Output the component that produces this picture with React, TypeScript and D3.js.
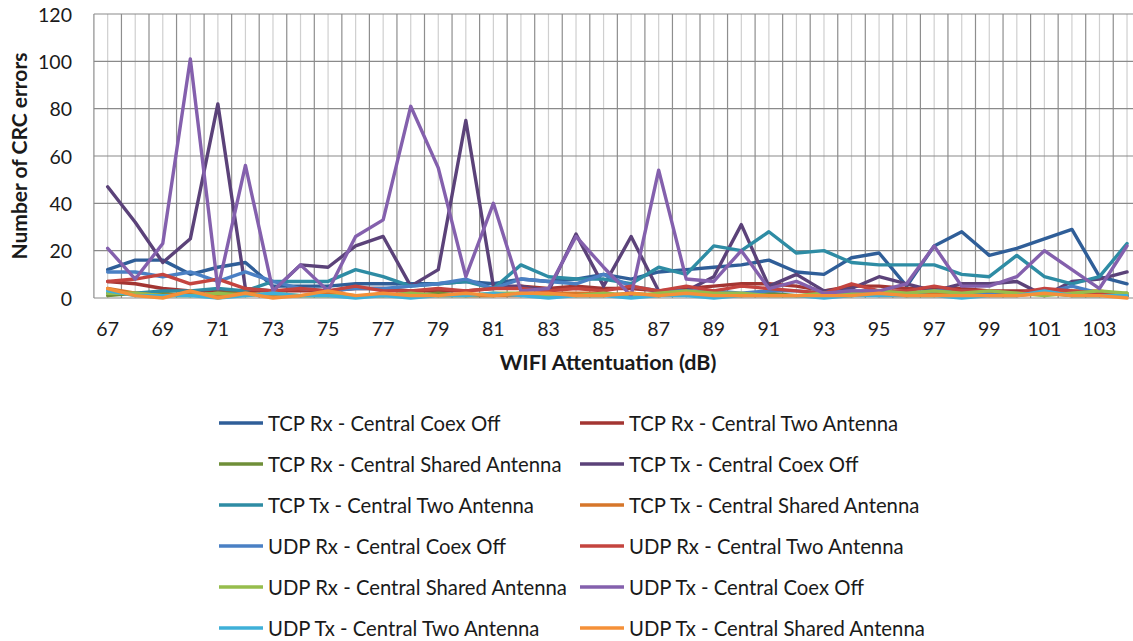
import React from "react";
import * as d3 from "d3";

const categories = d3.range(67, 105).map(String);
const yTicks = [0, 20, 40, 60, 80, 100, 120];
const xTickLabels = categories.filter((_, i) => i % 2 === 0);

const seriesNames = [
  "TCP Rx - Central Coex Off",
  "TCP Rx - Central Two Antenna",
  "TCP Rx - Central Shared Antenna",
  "TCP Tx - Central Coex Off",
  "TCP Tx - Central Two Antenna",
  "TCP Tx - Central Shared Antenna",
  "UDP Rx - Central Coex Off",
  "UDP Rx - Central Two Antenna",
  "UDP Rx - Central Shared Antenna",
  "UDP Tx - Central Coex Off",
  "UDP Tx - Central Two Antenna",
  "UDP Tx - Central Shared Antenna",
];

const seriesColors = [
  "#2f5e98", "#a33532", "#6f8f38", "#5b4279", "#2e8ca4", "#d6762a",
  "#4a80c4", "#c4443f", "#96bd4c", "#8460ad", "#3fb0d8", "#f59038",
];

const tcpRxCoexOff = [12, 16, 16, 10, 13, 15, 5, 5, 5, 6, 6, 6, 6, 7, 6, 8, 7, 8, 10, 8, 11, 12, 13, 14, 16, 11, 10, 17, 19, 5, 22, 28, 18, 21, 25, 29, 9, 6];
const tcpRxTwoAntenna = [7, 6, 4, 3, 3, 3, 3, 3, 3, 4, 4, 3, 3, 3, 4, 5, 4, 5, 4, 4, 3, 4, 5, 6, 6, 5, 3, 5, 5, 4, 4, 4, 3, 3, 3, 2, 2, 1];
const tcpRxShared = [1, 2, 2, 1, 2, 2, 1, 1, 1, 1, 1, 1, 2, 1, 1, 2, 2, 1, 1, 2, 1, 2, 2, 1, 2, 1, 1, 1, 2, 1, 1, 2, 2, 2, 2, 1, 1, 2];
const tcpTxCoexOff = [47, 32, 15, 25, 82, 4, 3, 14, 13, 22, 26, 5, 12, 75, 5, 5, 3, 27, 5, 26, 3, 3, 9, 31, 5, 10, 3, 4, 9, 6, 3, 6, 6, 7, 1, 7, 8, 11];
const tcpTxTwoAntenna = [2, 2, 3, 3, 4, 3, 7, 7, 7, 12, 9, 5, 6, 7, 4, 14, 9, 8, 8, 6, 13, 10, 22, 20, 28, 19, 20, 15, 14, 14, 14, 10, 9, 18, 9, 6, 9, 23];
const tcpTxShared = [4, 2, 1, 2, 1, 2, 1, 1, 2, 1, 1, 2, 1, 1, 1, 1, 2, 2, 2, 1, 1, 2, 1, 1, 1, 1, 1, 2, 1, 1, 2, 1, 1, 1, 2, 3, 3, 1];
const udpRxCoexOff = [11, 11, 9, 11, 7, 11, 7, 4, 3, 4, 4, 5, 6, 8, 4, 8, 7, 6, 10, 5, 3, 3, 3, 2, 3, 3, 2, 3, 3, 2, 3, 3, 2, 2, 2, 5, 2, 1];
const udpRxTwoAntenna = [7, 8, 10, 6, 8, 4, 3, 4, 3, 5, 3, 3, 4, 3, 4, 4, 3, 4, 3, 5, 3, 5, 3, 5, 4, 3, 2, 6, 3, 3, 5, 3, 3, 2, 4, 3, 2, 1];
const udpRxShared = [2, 2, 1, 1, 2, 1, 2, 1, 1, 1, 1, 2, 1, 1, 2, 2, 1, 1, 2, 1, 2, 3, 2, 2, 1, 1, 2, 2, 3, 2, 3, 2, 3, 2, 1, 2, 3, 2];
const udpTxCoexOff = [21, 8, 23, 101, 4, 56, 3, 14, 3, 26, 33, 81, 55, 9, 40, 3, 4, 26, 13, 1, 54, 8, 7, 20, 4, 7, 2, 3, 3, 6, 22, 5, 5, 9, 20, 12, 4, 22];
const udpTxTwoAntenna = [3, 1, 1, 1, 0, 1, 2, 1, 1, 0, 1, 0, 1, 1, 2, 1, 0, 1, 1, 0, 1, 1, 0, 1, 1, 1, 0, 1, 1, 1, 1, 0, 1, 1, 3, 1, 1, 1];
const udpTxShared = [4, 1, 0, 3, 0, 2, 0, 1, 3, 1, 2, 1, 1, 2, 1, 2, 2, 1, 1, 2, 1, 2, 1, 1, 1, 1, 1, 1, 2, 1, 1, 1, 1, 1, 2, 1, 1, 0];

const seriesValues = [
  tcpRxCoexOff, tcpRxTwoAntenna, tcpRxShared, tcpTxCoexOff, tcpTxTwoAntenna, tcpTxShared,
  udpRxCoexOff, udpRxTwoAntenna, udpRxShared, udpTxCoexOff, udpTxTwoAntenna, udpTxShared,
];

const FONT = "Lato, 'Open Sans', sans-serif";

export default function App() {
  const W = 1133;
  const H = 641;
  const bandW = 27.55;
  const left = 93.9;
  const x = d3
    .scaleBand<string>()
    .domain(categories)
    .range([left, left + bandW * categories.length])
    .paddingInner(0)
    .paddingOuter(0);
  const y = d3.scaleLinear().domain([0, 120]).range([298, 14]);
  const cx = (c: string) => (x(c) as number) + x.bandwidth() / 2;

  const line = d3
    .line<number>()
    .x((_, i) => cx(categories[i]))
    .y((v) => y(v));

  const edges = d3.range(categories.length + 1).map((i) => left + i * x.bandwidth());
  const order = d3.range(seriesValues.length);

  const legendY = (r: number) => 423 + r * 41;
  const legendX = [219, 580];

  return (
    <div style={{ position: "absolute", left: 0, top: 0 }}>
      <svg width={W} height={H} style={{ display: "block", background: "#fff" }}>
        {categories.map((c) => (
          <line key={"mv" + c} x1={cx(c)} x2={cx(c)} y1={y(120)} y2={y(0)} stroke="#cfcfcf" strokeWidth={1.2} />
        ))}
        {edges.map((e, i) => (
          <line key={"v" + i} x1={e} x2={e} y1={y(120)} y2={y(0)} stroke="#8e8e8e" strokeWidth={1.2} />
        ))}
        {yTicks.map((t) => (
          <line key={"h" + t} x1={left} x2={W} y1={y(t)} y2={y(t)} stroke="#8a8a8a" strokeWidth={1.2} />
        ))}
        <g>
          {order.map((si) => (
            <path
              key={"s" + si}
              d={line(seriesValues[si]) || ""}
              fill="none"
              stroke={seriesColors[si]}
              strokeWidth={3.4}
              strokeLinejoin="round"
              strokeLinecap="round"
            />
          ))}
        </g>
        {yTicks.map((t) => (
          <text
            key={"yl" + t}
            x={72}
            y={y(t)}
            textAnchor="end"
            dominantBaseline="central"
            fontFamily={FONT}
            fontSize={19.5}
            fill="#1a1a1a"
          >
            {t}
          </text>
        ))}
        {xTickLabels.map((c) => (
          <text
            key={"xl" + c}
            x={cx(c)}
            y={328}
            textAnchor="middle"
            dominantBaseline="central"
            fontFamily={FONT}
            fontSize={19.5}
            fill="#1a1a1a"
          >
            {c}
          </text>
        ))}
        <text
          x={608}
          y={362}
          textAnchor="middle"
          dominantBaseline="central"
          fontFamily={FONT}
          fontWeight="bold"
          fontSize={21.5}
          fill="#1a1a1a"
        >
          WIFI Attentuation (dB)
        </text>
        <text
          transform="translate(18,156) rotate(-90)"
          textAnchor="middle"
          dominantBaseline="central"
          fontFamily={FONT}
          fontWeight="bold"
          fontSize={21}
          fill="#1a1a1a"
        >
          Number of CRC errors
        </text>
        {seriesNames.map((name, i) => {
          const col = i % 2;
          const row = Math.floor(i / 2);
          const lx = legendX[col];
          const ly = legendY(row);
          return (
            <g key={"lg" + i}>
              <line x1={lx} x2={lx + 44} y1={ly} y2={ly} stroke={seriesColors[i]} strokeWidth={3.4} />
              <text
                x={lx + 49}
                y={ly}
                dominantBaseline="central"
                fontFamily={FONT}
                fontSize={20.3}
                fill="#1a1a1a"
              >
                {name}
              </text>
            </g>
          );
        })}
      </svg>
    </div>
  );
}
